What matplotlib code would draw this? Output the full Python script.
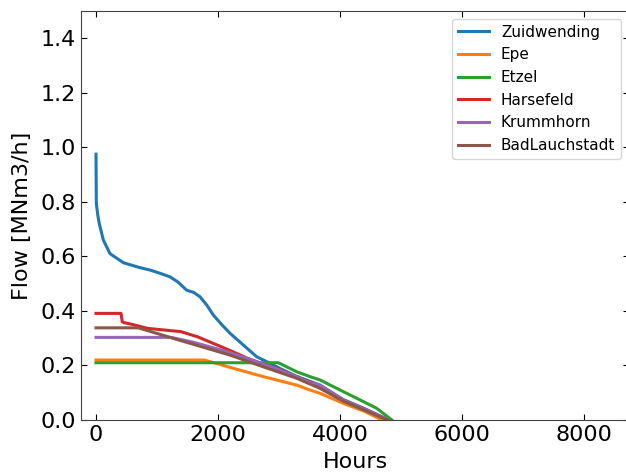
import numpy as np
import matplotlib.pyplot as plt

names = ["Zuidwending", "Epe", "Etzel", "Harsefeld", "Krummhorn", "BadLauchstadt"]

zuid_h = [0, 5, 30, 54, 120, 230, 448, 700, 885, 1050, 1213, 1350, 1486, 1600, 1705, 1820, 1923,
          2060, 2197, 2415, 2634, 2852, 3016, 3290, 3672, 4054, 4400, 4800]
zuid_q = [0.975, 0.795, 0.75, 0.72, 0.66, 0.61, 0.577, 0.56, 0.55, 0.538, 0.525, 0.505, 0.476,
          0.468, 0.452, 0.42, 0.385, 0.35, 0.318, 0.275, 0.232, 0.208, 0.189, 0.160, 0.128,
          0.075, 0.042, 0.0]

epe_h = [0, 1775, 2197, 2743, 3290, 3508, 3672, 4054, 4400, 4690]
epe_q = [0.22, 0.22, 0.193, 0.159, 0.128, 0.110, 0.098, 0.061, 0.032, 0.0]

etzel_h = [0, 2989, 3290, 3508, 3672, 4054, 4273, 4601, 4850]
etzel_q = [0.21, 0.21, 0.177, 0.159, 0.147, 0.104, 0.080, 0.043, 0.0]

hars_h = [0, 410, 430, 464, 585, 847, 1393, 1667, 2049, 2197, 2486, 2743, 3016, 3290, 3672,
          4054, 4400, 4790]
hars_q = [0.391, 0.391, 0.36, 0.357, 0.351, 0.336, 0.324, 0.305, 0.269, 0.255, 0.226, 0.205,
          0.185, 0.158, 0.125, 0.073, 0.040, 0.0]

krum_h = [0, 1230, 1600, 2049, 2197, 2705, 3016, 3290, 3508, 3672, 4054, 4400, 4792]
krum_q = [0.303, 0.303, 0.285, 0.257, 0.247, 0.208, 0.183, 0.158, 0.137, 0.128, 0.073, 0.040, 0.0]

bad_h = [0, 694, 1393, 2197, 2743, 3290, 3672, 4054, 4400, 4780]
bad_q = [0.338, 0.338, 0.291, 0.238, 0.195, 0.153, 0.116, 0.069, 0.036, 0.0]

series = [(zuid_h, zuid_q), (epe_h, epe_q), (etzel_h, etzel_q),
          (hars_h, hars_q), (krum_h, krum_q), (bad_h, bad_q)]

fig = plt.figure(figsize=(6.26, 4.75), dpi=100)
ax = fig.add_axes([0.1294, 0.1158, 0.8754, 0.861])
for name, (h, q) in zip(names, series):
    ax.plot(h, q, lw=2.2, label=name)

ax.set_xlim(-246, 8738)
ax.set_ylim(0, 1.5)
ax.set_xticks([0, 2000, 4000, 6000, 8000])
ax.set_yticks(np.arange(0, 1.5, 0.2))
ax.tick_params(direction="in", top=True, right=True, labelsize=16, length=4)
for s in ax.spines.values():
    s.set_color("#444444")
ax.set_xlabel("Hours", fontsize=16, labelpad=5)
ax.set_ylabel("Flow [MNm3/h]", fontsize=16, labelpad=6)
ax.legend(loc="upper right", fontsize=11)
fig.savefig("out.png", dpi=100)
